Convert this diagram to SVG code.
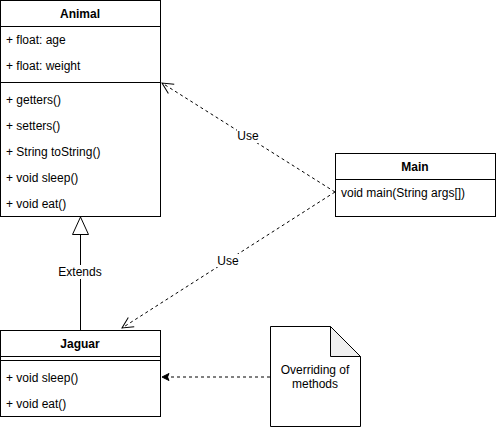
<svg xmlns="http://www.w3.org/2000/svg" width="496" height="428" viewBox="0 0 496 428">
<style>
text{font-family:"Liberation Sans",Arial,sans-serif;font-size:12px;fill:#000}
.h{font-weight:bold;text-anchor:middle}
.c{text-anchor:middle}
.box{fill:#fff;stroke:#000;stroke-width:1}
.ln{stroke:#000;stroke-width:1;fill:none}
.d{stroke:#000;stroke-width:1;fill:none;stroke-dasharray:3 3}
.lbl{fill:#fff}
</style>
<defs>
<marker id="open" markerWidth="14" markerHeight="14" refX="12" refY="7" orient="auto" markerUnits="userSpaceOnUse">
<path d="M1,1.5 L12,7 L1,12.5" fill="none" stroke="#000"/>
</marker>
<marker id="block" markerWidth="10" markerHeight="10" refX="8" refY="5" orient="auto" markerUnits="userSpaceOnUse">
<path d="M1,1.5 L8,5 L1,8.5 L2.5,5 Z" fill="#000" stroke="#000"/>
</marker>
</defs>
<g id="animal">
<rect class="box" x="0.5" y="0.5" width="160" height="216"/>
<line class="ln" x1="0.5" y1="26.5" x2="160.5" y2="26.5"/>
<line class="ln" x1="0.5" y1="82.5" x2="160.5" y2="82.5"/>
<text class="h" x="80" y="18">Animal</text>
<text x="6" y="44">+ float: age</text>
<text x="6" y="70">+ float: weight</text>
<text x="6" y="104">+ getters()</text>
<text x="6" y="130">+ setters()</text>
<text x="6" y="156">+ String toString()</text>
<text x="6" y="182">+ void sleep()</text>
<text x="6" y="208">+ void eat()</text>
</g>
<g id="jaguar">
<rect class="box" x="0.5" y="330.5" width="160" height="86"/>
<line class="ln" x1="0.5" y1="356.5" x2="160.5" y2="356.5"/>
<line class="ln" x1="0.5" y1="360.5" x2="160.5" y2="360.5"/>
<text class="h" x="80" y="348">Jaguar</text>
<text x="6" y="382">+ void sleep()</text>
<text x="6" y="408">+ void eat()</text>
</g>
<g id="main">
<rect class="box" x="335.5" y="153.5" width="160" height="63"/>
<line class="ln" x1="335.5" y1="179.5" x2="495.5" y2="179.5"/>
<text class="h" x="415" y="171">Main</text>
<text x="341" y="197">void main(String args[])</text>
</g>
<g id="note">
<path d="M270.5,326.5 H330.5 L360.5,356.5 V426.5 H270.5 Z" fill="#fff" stroke="#000"/>
<path d="M330.5,326.5 V356.5 H360.5 Z" fill="#f0f0f0" stroke="#000"/>
<text class="c" x="315" y="374">Overriding of</text>
<text class="c" x="315" y="388">methods</text>
</g>
<g id="connectors">
<line class="ln" x1="80.5" y1="330" x2="80.5" y2="235"/>
<path d="M80.5,217 L72.5,234.5 L88.5,234.5 Z" fill="#fff" stroke="#000"/>
<rect class="lbl" x="58" y="265" width="44" height="14"/>
<text class="c" x="80" y="276">Extends</text>
<line class="d" x1="335" y1="192" x2="162" y2="83" marker-end="url(#open)"/>
<rect class="lbl" x="237" y="130" width="22" height="13"/>
<text class="c" x="248" y="140">Use</text>
<line class="d" x1="335" y1="192" x2="122" y2="328" marker-end="url(#open)"/>
<rect class="lbl" x="217" y="254" width="22" height="13"/>
<text class="c" x="228" y="265">Use</text>
<line class="d" x1="270" y1="377" x2="162" y2="377" marker-end="url(#block)"/>
</g>
</svg>
